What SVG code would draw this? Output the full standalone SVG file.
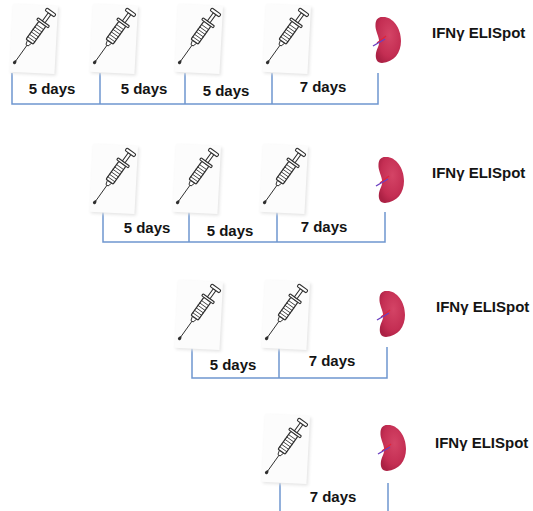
<svg xmlns="http://www.w3.org/2000/svg" xmlns:xlink="http://www.w3.org/1999/xlink" width="533" height="511" viewBox="0 0 533 511">
  <style>
    .lbl { font-family: "Liberation Sans", Arial, sans-serif; font-weight: bold; font-size: 15px; fill: #141414; }
    .dur { text-anchor: middle; }
    .tl { fill: none; stroke: #6f96cf; stroke-width: 1.5; }
    .ink { stroke: #2e2e2e; stroke-linejoin: round; stroke-linecap: round; }
    .card { fill: #fcfcfc; }
    .card-sh { fill: #e4e4e4; filter: url(#soft); }
    .spl { fill: url(#splGrad); }
  </style>
  <defs>
    <filter id="soft" x="-20%" y="-20%" width="140%" height="140%">
      <feGaussianBlur stdDeviation="1.4"/>
    </filter>
    <radialGradient id="splGrad" cx="0.55" cy="0.4" r="0.65">
      <stop offset="0" stop-color="#d44466"/>
      <stop offset="0.7" stop-color="#c42e53"/>
      <stop offset="1" stop-color="#ab2144"/>
    </radialGradient>

    <!-- syringe on a paper card; origin = needle droplet -->
    <g id="syringe">
      <g transform="rotate(3)">
        <rect class="card-sh" x="-3.5" y="-56.5" width="45" height="68"/>
        <rect class="card" x="-5" y="-58" width="45" height="68"/>
      </g>
      <g transform="rotate(-54.4)">
        <path d="M-2.4,0 C-2.4,-1.8 -0.6,-2 1,-1 L3,0 L1,1 C-0.6,2 -2.4,1.8 -2.4,0 Z" fill="#2e2e2e"/>
        <line class="ink" x1="3" y1="0" x2="21" y2="0" stroke-width="0.9"/>
        <path class="ink" d="M21,-1.4 L25,-2.6 L25,2.6 L21,1.4 Z" fill="#fff" stroke-width="0.9"/>
        <rect class="ink" x="25" y="-4.3" width="22" height="8.6" rx="1" fill="#fff" stroke-width="1.2"/>
        <g class="ink" stroke-width="0.8">
          <line x1="28" y1="-4.3" x2="28" y2="4.3"/>
          <line x1="31" y1="-4.3" x2="31" y2="4.3"/>
          <line x1="34" y1="-4.3" x2="34" y2="4.3"/>
          <line x1="37" y1="-4.3" x2="37" y2="4.3"/>
          <line x1="40" y1="-4.3" x2="40" y2="4.3"/>
          <line x1="43" y1="-4.3" x2="43" y2="4.3"/>
        </g>
        <rect class="ink" x="47" y="-7" width="2.4" height="14" rx="0.8" fill="#fff" stroke-width="1.1"/>
        <rect class="ink" x="49.4" y="-1.6" width="10" height="3.2" fill="#fff" stroke-width="1"/>
        <rect class="ink" x="59.4" y="-5.6" width="3.2" height="11.2" rx="1.2" fill="#fff" stroke-width="1.1"/>
      </g>
    </g>

    <!-- spleen; origin = top-left of bounding box -->
    <g id="spleen">
      <path class="spl" d="M8,0 C18,-1 27,10 27,24 C27,36 20,45 8,46 C3,46 1,42 2,36 C3,31 6,28 5,23 C4,17 1,13 1.5,7 C2,2 4.5,0 8,0 Z"/>
      <path d="M3,26 L12,19" stroke="#e0243a" stroke-width="1.2" fill="none"/>
      <path d="M-1,29 L11,22" stroke="#6a3fc0" stroke-width="1.4" fill="none"/>
    </g>
  </defs>

  <!-- timelines -->
  <g id="connectors">
    <path class="tl" d="M12,73 V104 H378 V73 M100,73 V104 M185,73 V104 M272,73 V104"/>
    <path class="tl" d="M103,212 V242 H385 V212 M189,212 V242 M277,212 V242"/>
    <path class="tl" d="M192,347 V378 H387 V347 M279,347 V378"/>
    <path class="tl" d="M280,483 V511 M388,483 V511"/>
  </g>

  <!-- interval labels -->
  <g id="intervals">
    <text class="lbl dur" x="52" y="94">5 days</text>
    <text class="lbl dur" x="144" y="94">5 days</text>
    <text class="lbl dur" x="226" y="96">5 days</text>
    <text class="lbl dur" x="323" y="92">7 days</text>

    <text class="lbl dur" x="147" y="233">5 days</text>
    <text class="lbl dur" x="230" y="236">5 days</text>
    <text class="lbl dur" x="324" y="232">7 days</text>

    <text class="lbl dur" x="233" y="370">5 days</text>
    <text class="lbl dur" x="332" y="366">7 days</text>

    <text class="lbl dur" x="333" y="502">7 days</text>
  </g>

  <!-- injections -->
  <g id="inj-1a"><use xlink:href="#syringe" href="#syringe" x="15" y="62"/></g>
  <g id="inj-1b"><use xlink:href="#syringe" href="#syringe" x="95" y="62"/></g>
  <g id="inj-1c"><use xlink:href="#syringe" href="#syringe" x="180" y="62"/></g>
  <g id="inj-1d"><use xlink:href="#syringe" href="#syringe" x="268" y="62"/></g>

  <g id="inj-2a"><use xlink:href="#syringe" href="#syringe" x="95" y="202"/></g>
  <g id="inj-2b"><use xlink:href="#syringe" href="#syringe" x="178" y="202"/></g>
  <g id="inj-2c"><use xlink:href="#syringe" href="#syringe" x="265" y="202"/></g>

  <g id="inj-3a"><use xlink:href="#syringe" href="#syringe" x="180" y="338"/></g>
  <g id="inj-3b"><use xlink:href="#syringe" href="#syringe" x="267" y="338"/></g>

  <g id="inj-4a"><use xlink:href="#syringe" href="#syringe" x="267" y="472"/></g>

  <!-- spleen harvest -->
  <g id="spleen-1"><use xlink:href="#spleen" href="#spleen" x="374" y="17"/></g>
  <g id="spleen-2"><use xlink:href="#spleen" href="#spleen" x="377" y="157"/></g>
  <g id="spleen-3"><use xlink:href="#spleen" href="#spleen" x="378" y="291"/></g>
  <g id="spleen-4"><use xlink:href="#spleen" href="#spleen" x="379" y="425"/></g>

  <!-- readout -->
  <g id="assay-1"><text class="lbl" x="432" y="38">IFNγ ELISpot</text></g>
  <g id="assay-2"><text class="lbl" x="432" y="178">IFNγ ELISpot</text></g>
  <g id="assay-3"><text class="lbl" x="436" y="312">IFNγ ELISpot</text></g>
  <g id="assay-4"><text class="lbl" x="435" y="448">IFNγ ELISpot</text></g>
</svg>
